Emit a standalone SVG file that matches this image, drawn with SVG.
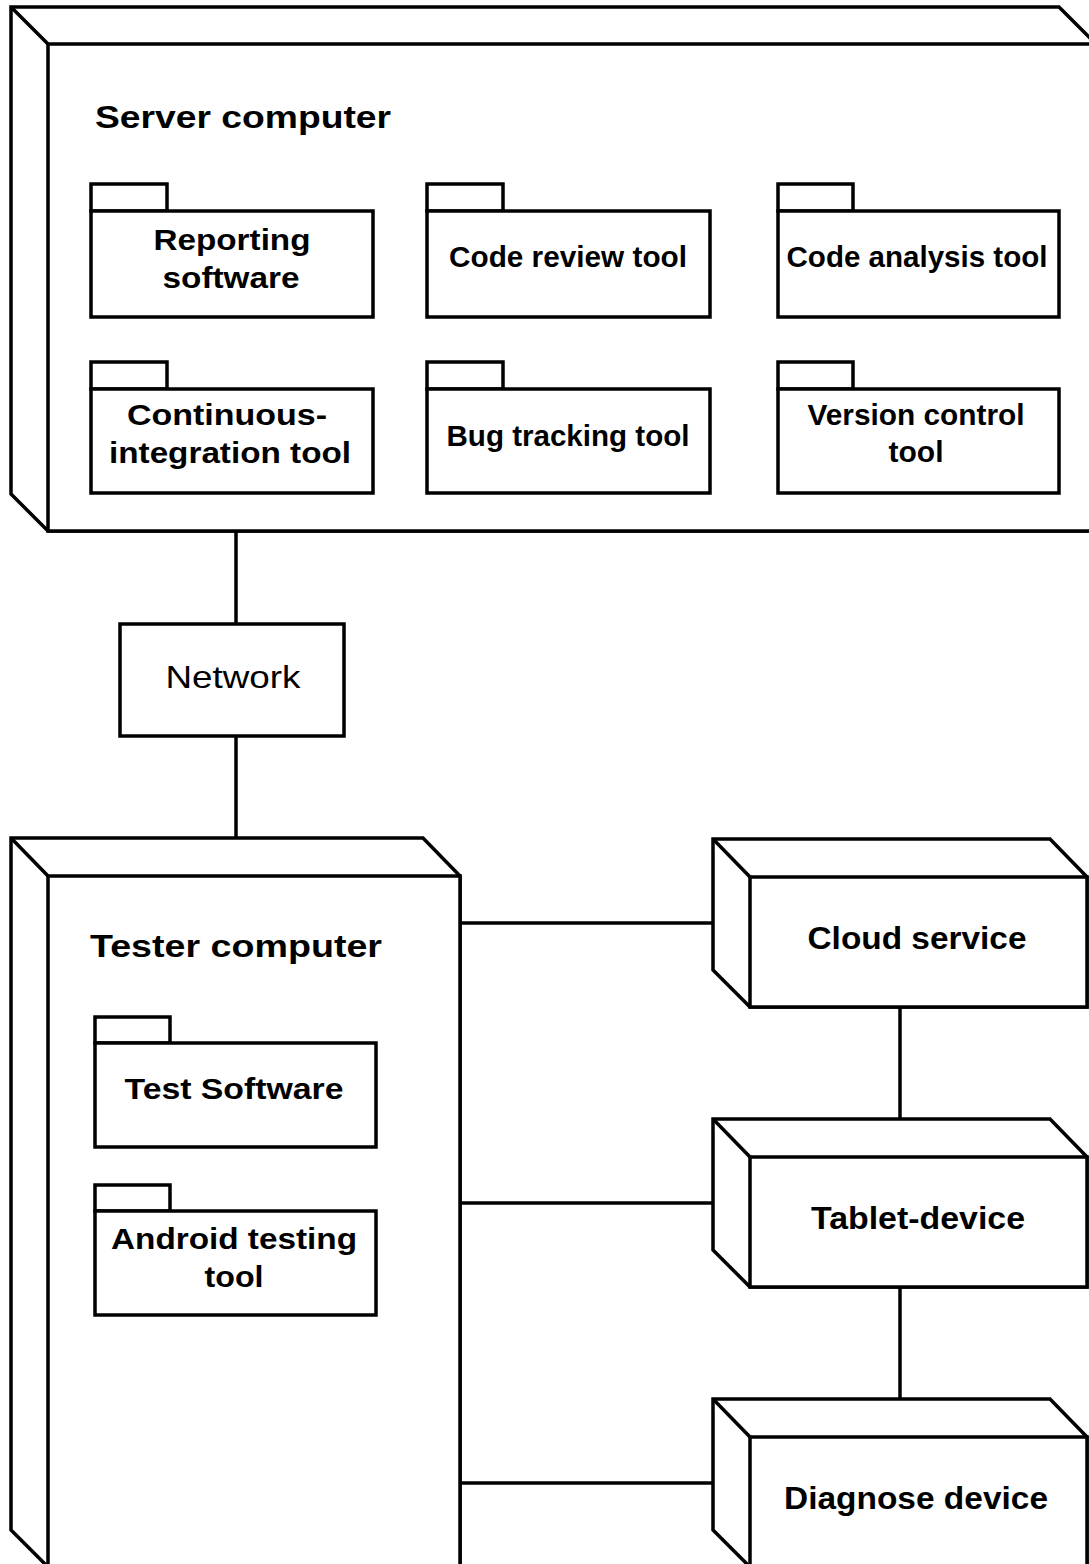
<svg xmlns="http://www.w3.org/2000/svg" width="1089" height="1564" viewBox="0 0 1089 1564">
<style>
.bg{fill:#ffffff}
.sh{fill:#ffffff;stroke:#000;stroke-width:3.5;stroke-linejoin:miter}
.ln{fill:none;stroke:#000;stroke-width:3.5}
.pk{font-family:"Liberation Sans",Arial,sans-serif;font-weight:bold;font-size:29px;text-anchor:middle;fill:#000}
.dv{font-family:"Liberation Sans",Arial,sans-serif;font-weight:bold;font-size:31px;text-anchor:middle;fill:#000}
.tt{font-family:"Liberation Sans",Arial,sans-serif;font-weight:bold;font-size:32px;fill:#000}
.nw{font-family:"Liberation Sans",Arial,sans-serif;font-size:32px;text-anchor:middle;fill:#000}
</style>
<rect class="bg" x="0" y="0" width="1089" height="1564"/>
<g id="connectors">
<line class="ln" x1="236" y1="531" x2="236" y2="624"/>
<line class="ln" x1="236" y1="736" x2="236" y2="838"/>
<line class="ln" x1="460" y1="923" x2="713" y2="923"/>
<line class="ln" x1="460" y1="1203" x2="713" y2="1203"/>
<line class="ln" x1="460" y1="1483" x2="713" y2="1483"/>
<line class="ln" x1="900" y1="1007" x2="900" y2="1119"/>
<line class="ln" x1="900" y1="1287" x2="900" y2="1399"/>
</g>
<g id="server-computer">
<polygon class="sh" points="11,7 1059,7 1100,48 1100,531 48,531 11,494"/>
<rect class="sh" x="48" y="44" width="1060" height="487"/>
<line class="ln" x1="11" y1="7" x2="48" y2="44"/>
<text class="tt" x="95" y="128" textLength="296" lengthAdjust="spacingAndGlyphs">Server computer</text>
</g>
<g id="pkg-reporting">
<rect class="sh" x="91" y="184" width="76" height="27"/>
<rect class="sh" x="91" y="211" width="282" height="106"/>
<text class="pk" x="232" y="250" textLength="157" lengthAdjust="spacingAndGlyphs">Reporting</text>
<text class="pk" x="231" y="288" textLength="137" lengthAdjust="spacingAndGlyphs">software</text>
</g>
<g id="pkg-code-review">
<rect class="sh" x="427" y="184" width="76" height="27"/>
<rect class="sh" x="427" y="211" width="283" height="106"/>
<text class="pk" x="568" y="267" textLength="238" lengthAdjust="spacingAndGlyphs">Code review tool</text>
</g>
<g id="pkg-code-analysis">
<rect class="sh" x="778" y="184" width="75" height="27"/>
<rect class="sh" x="778" y="211" width="281" height="106"/>
<text class="pk" x="917" y="267" textLength="261" lengthAdjust="spacingAndGlyphs">Code analysis tool</text>
</g>
<g id="pkg-ci">
<rect class="sh" x="91" y="362" width="76" height="27"/>
<rect class="sh" x="91" y="389" width="282" height="104"/>
<text class="pk" x="227" y="425" textLength="200" lengthAdjust="spacingAndGlyphs">Continuous-</text>
<text class="pk" x="230" y="463" textLength="242" lengthAdjust="spacingAndGlyphs">integration tool</text>
</g>
<g id="pkg-bug-tracking">
<rect class="sh" x="427" y="362" width="76" height="27"/>
<rect class="sh" x="427" y="389" width="283" height="104"/>
<text class="pk" x="568" y="446" textLength="243" lengthAdjust="spacingAndGlyphs">Bug tracking tool</text>
</g>
<g id="pkg-version-control">
<rect class="sh" x="778" y="362" width="75" height="27"/>
<rect class="sh" x="778" y="389" width="281" height="104"/>
<text class="pk" x="916" y="425" textLength="217" lengthAdjust="spacingAndGlyphs">Version control</text>
<text class="pk" x="916" y="462" textLength="55" lengthAdjust="spacingAndGlyphs">tool</text>
</g>
<g id="network">
<rect class="sh" x="120" y="624" width="224" height="112"/>
<text class="nw" x="233" y="688" textLength="135" lengthAdjust="spacingAndGlyphs">Network</text>
</g>
<g id="tester-computer">
<polygon class="sh" points="11,838 423,838 460,876 460,1600 48,1600 48,1567 11,1530"/>
<rect class="sh" x="48" y="876" width="412" height="720"/>
<line class="ln" x1="11" y1="838" x2="48" y2="876"/>
<text class="tt" x="90" y="957" textLength="292" lengthAdjust="spacingAndGlyphs">Tester computer</text>
</g>
<g id="pkg-test-software">
<rect class="sh" x="95" y="1017" width="75" height="26"/>
<rect class="sh" x="95" y="1043" width="281" height="104"/>
<text class="pk" x="234" y="1099" textLength="219" lengthAdjust="spacingAndGlyphs">Test Software</text>
</g>
<g id="pkg-android-testing">
<rect class="sh" x="95" y="1185" width="75" height="26"/>
<rect class="sh" x="95" y="1211" width="281" height="104"/>
<text class="pk" x="234" y="1249" textLength="246" lengthAdjust="spacingAndGlyphs">Android testing</text>
<text class="pk" x="234" y="1287" textLength="59" lengthAdjust="spacingAndGlyphs">tool</text>
</g>
<g id="cloud-service">
<polygon class="sh" points="713,839 1050,839 1087,877 1087,1007 750,1007 713,970"/>
<rect class="sh" x="750" y="877" width="337" height="130"/>
<line class="ln" x1="713" y1="839" x2="750" y2="877"/>
<text class="dv" x="917" y="949" textLength="219" lengthAdjust="spacingAndGlyphs">Cloud service</text>
</g>
<g id="tablet-device">
<polygon class="sh" points="713,1119 1050,1119 1087,1157 1087,1287 750,1287 713,1250"/>
<rect class="sh" x="750" y="1157" width="337" height="130"/>
<line class="ln" x1="713" y1="1119" x2="750" y2="1157"/>
<text class="dv" x="918" y="1229" textLength="214" lengthAdjust="spacingAndGlyphs">Tablet-device</text>
</g>
<g id="diagnose-device">
<polygon class="sh" points="713,1399 1050,1399 1087,1437 1087,1567 750,1567 713,1530"/>
<rect class="sh" x="750" y="1437" width="337" height="130"/>
<line class="ln" x1="713" y1="1399" x2="750" y2="1437"/>
<text class="dv" x="916" y="1509" textLength="264" lengthAdjust="spacingAndGlyphs">Diagnose device</text>
</g>
</svg>
